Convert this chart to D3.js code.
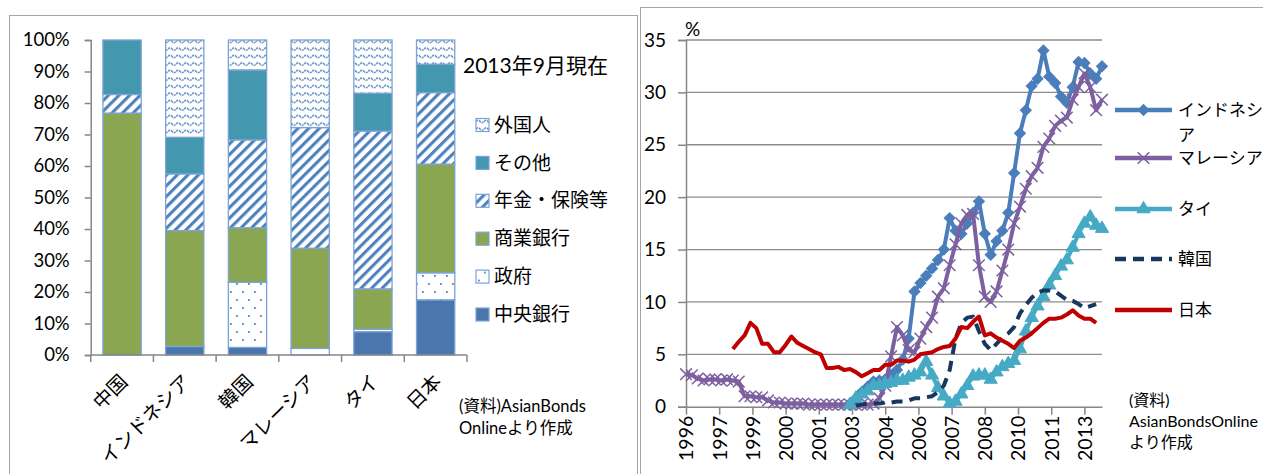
<!DOCTYPE html>
<html>
<head>
<meta charset="utf-8">
<script src="https://d3js.org/d3.v7.min.js"></script>
<style>
body { margin: 0; background: #fff; }
svg { display: block; font-family: Lato, "Noto Sans CJK JP", sans-serif; }
</style>
</head>
<body>
<script>
(function() {

// ---- left chart data (share of holders, %) ----
var countries = ["中国", "インドネシア", "韓国", "マレーシア", "タイ", "日本"];
var holders = ["中央銀行", "政府", "商業銀行", "年金・保険等", "その他", "外国人"];
var centralBank      = [0,    2.7,  2.4,  0,    7.4,  17.5];
var government       = [0,    0,    20.7, 2.1,  0.8,  8.6];
var commercialBanks  = [76.8, 36.8, 17.3, 31.8, 12.8, 34.5];
var pensionInsurance = [5.9,  18.0, 27.9, 38.3, 50.1, 22.7];
var others           = [17.3, 11.6, 22.2, 0,    12.0, 9.0];
var foreigners       = [0,    30.9, 9.5,  27.8, 16.9, 7.7];
var pctTicks = [0, 10, 20, 30, 40, 50, 60, 70, 80, 90, 100];

// ---- right chart data (foreign share of local bonds, %, quarterly from 1996Q1) ----
var yearLabels = ["1996", "1997", "1999", "2000", "2001", "2003", "2004", "2006", "2007", "2008", "2010", "2011", "2013"];
var valueTicks = [0, 5, 10, 15, 20, 25, 30, 35];
var indonesiaStart = 28;
var indonesia = [0.3, 0.8, 1.4, 1.9, 2.4, 2.5, 2.6, 3.0, 3.5, 4.5,
  6.5, 11.0, 11.8, 12.5, 13.2, 14.0, 15.0, 18.0, 16.8, 16.5,
  17.5, 18.5, 19.6, 16.5, 14.5, 15.8, 16.8, 18.5, 22.3, 26.1,
  28.3, 30.6, 31.3, 34.0, 31.5, 30.9, 29.6, 29.0, 30.5, 32.9,
  32.8, 31.8, 31.3, 32.5];
var malaysiaStart = 0;
var malaysia = [3.1, 3.0, 2.7, 2.5, 2.6, 2.6, 2.5, 2.6, 2.5, 2.4,
  1.0, 1.0, 0.9, 0.9, 0.6, 0.4, 0.4, 0.3, 0.3, 0.3,
  0.3, 0.2, 0.2, 0.2, 0.2, 0.2, 0.2, 0.2, 0.2, 0.2,
  0.2, 0.2, 0.3, 0.8, 2.0, 4.8, 7.6, 6.8, 5.4, 5.2,
  6.5, 7.6, 8.5, 10.5, 11.3, 13.5, 15.5, 17.5, 18.3, 18.4,
  13.5, 10.5, 10.0, 11.0, 13.0, 15.0, 17.5, 19.1, 20.8, 22.0,
  22.8, 24.8, 25.6, 26.8, 27.3, 27.6, 29.3, 30.5, 31.8, 30.5,
  28.3, 29.3];
var thailandStart = 28;
var thailand = [0.2, 0.8, 1.2, 1.5, 2.0, 2.0, 2.2, 2.3, 2.5, 2.5,
  2.8, 3.0, 3.3, 4.3, 3.0, 1.8, 1.0, 0.3, 0.5, 1.2,
  2.0, 2.9, 3.0, 3.0, 2.6, 3.3, 3.8, 4.1, 4.4, 5.5,
  7.2, 8.5, 9.6, 10.5, 11.6, 12.5, 13.4, 14.0, 15.2, 16.5,
  17.5, 18.1, 17.3, 17.0];
var koreaStart = 29;
var korea = [0.1, 0.2, 0.3, 0.3, 0.3, 0.4, 0.4, 0.5, 0.5, 0.6,
  0.8, 0.8, 0.9, 1.0, 1.4, 2.0, 3.5, 6.5, 8.0, 8.5,
  8.6, 7.2, 6.0, 5.4, 6.0, 6.6, 7.0, 7.6, 8.9, 9.7,
  10.4, 10.9, 11.1, 11.1, 11.0, 10.6, 10.2, 10.1, 9.8, 9.4,
  9.6, 9.8];
var japanStart = 8;
var japan = [5.5, 6.2, 6.8, 8.0, 7.5, 6.0, 6.0, 5.2, 5.2, 5.9,
  6.7, 6.1, 5.8, 5.5, 5.2, 5.0, 3.7, 3.7, 3.8, 3.5,
  3.6, 3.3, 2.9, 3.2, 3.5, 3.5, 4.0, 4.0, 4.4, 4.4,
  4.3, 4.5, 5.0, 5.1, 5.2, 5.5, 5.7, 5.8, 6.5, 7.6,
  7.5, 8.1, 8.6, 6.8, 7.0, 6.6, 6.3, 6.0, 5.6, 6.3,
  6.6, 7.0, 7.5, 8.0, 8.4, 8.4, 8.5, 8.8, 9.2, 8.7,
  8.4, 8.4, 8.0];

var axisGray = "#868686",
    patBlue = "#4f81bd",
    barEdge = "#7ba3d6",
    fontFam = "Lato, 'Noto Sans CJK JP', sans-serif";

var svg = d3.select("body").append("svg")
    .attr("width", 1263)
    .attr("height", 474);

// chart frames
svg.append("rect")
    .attr("x", 9.5).attr("y", 15.5).attr("width", 628).attr("height", 480)
    .attr("fill", "none").attr("stroke", "#a6a6a6");
svg.append("rect")
    .attr("x", 640.5).attr("y", 7.5).attr("width", 640).attr("height", 480)
    .attr("fill", "none").attr("stroke", "#a6a6a6");

// fill patterns
var defs = svg.append("defs");

var pGov = defs.append("pattern").attr("id", "pat-gov")
    .attr("patternUnits", "userSpaceOnUse").attr("width", 12).attr("height", 16);
pGov.append("rect").attr("width", 12).attr("height", 16).attr("fill", "#fff");
pGov.append("rect").attr("x", 2).attr("y", 3).attr("width", 1.8).attr("height", 1.8).attr("fill", patBlue);
pGov.append("rect").attr("x", 8).attr("y", 11).attr("width", 1.8).attr("height", 1.8).attr("fill", patBlue);

var pPen = defs.append("pattern").attr("id", "pat-pen")
    .attr("patternUnits", "userSpaceOnUse").attr("width", 7.5).attr("height", 7.5)
    .attr("patternTransform", "rotate(45)");
pPen.append("rect").attr("width", 7.5).attr("height", 7.5).attr("fill", "#fff");
pPen.append("rect").attr("width", 3.1).attr("height", 7.5).attr("fill", patBlue);

var pFor = defs.append("pattern").attr("id", "pat-for")
    .attr("patternUnits", "userSpaceOnUse").attr("width", 8).attr("height", 7.5);
pFor.append("rect").attr("width", 8).attr("height", 7.5).attr("fill", "#fff");
pFor.append("path").attr("d", "M0,4 Q2,1.5 4,4 T8,4")
    .attr("fill", "none").attr("stroke", patBlue).attr("stroke-width", 1.4)
    .attr("stroke-dasharray", "2.4,0.9");

var holderFill = {
  "中央銀行": "#4a76ad",
  "政府": "url(#pat-gov)",
  "商業銀行": "#8aa650",
  "年金・保険等": "url(#pat-pen)",
  "その他": "#4397ae",
  "外国人": "url(#pat-for)"
};

// ================= left: stacked 100% bars =================
var xL = d3.scaleBand()
    .domain(countries)
    .range([90.7, 467])
    .paddingInner(0.39)
    .paddingOuter(0.195);

var yL = d3.scaleLinear()
    .domain([0, 100])
    .range([355, 40]);

var table = countries.map(function(c, i) {
  return {
    country: c,
    "中央銀行": centralBank[i],
    "政府": government[i],
    "商業銀行": commercialBanks[i],
    "年金・保険等": pensionInsurance[i],
    "その他": others[i],
    "外国人": foreigners[i]
  };
});

var stacked = d3.stack().keys(holders)(table);

var left = svg.append("g");

left.selectAll(".layer")
    .data(stacked)
  .enter().append("g")
    .attr("class", "layer")
    .attr("fill", function(d) { return holderFill[d.key]; })
  .selectAll("rect")
    .data(function(d) { return d.filter(function(s) { return s[1] - s[0] > 0; }); })
  .enter().append("rect")
    .attr("x", function(d) { return xL(d.data.country); })
    .attr("y", function(d) { return yL(d[1]); })
    .attr("width", xL.bandwidth())
    .attr("height", function(d) { return yL(d[0]) - yL(d[1]); })
    .attr("stroke", barEdge)
    .attr("stroke-width", 1.3);

// y axis
var yAxisL = left.append("g")
    .attr("transform", "translate(90.7,0)")
    .call(d3.axisLeft(yL).tickValues(pctTicks).tickSize(6).tickPadding(15)
      .tickFormat(function(d) { return d + "%"; }));
yAxisL.select(".domain").attr("stroke", axisGray).attr("stroke-width", 1.5);
yAxisL.selectAll(".tick line").attr("stroke", axisGray).attr("stroke-width", 1.5);
yAxisL.selectAll(".tick text")
    .attr("fill", "#000").style("font-size", "18.5px")
    .style("font-family", fontFam);

// x axis: line + ticks between categories
left.append("line")
    .attr("x1", 90.7).attr("x2", 467).attr("y1", 355).attr("y2", 355)
    .attr("stroke", axisGray).attr("stroke-width", 1.5);
var step = xL.step();
left.selectAll(".xsep")
    .data(d3.range(countries.length + 1))
  .enter().append("line")
    .attr("class", "xsep")
    .attr("x1", function(i) { return 90.7 + i * step; })
    .attr("x2", function(i) { return 90.7 + i * step; })
    .attr("y1", 355).attr("y2", 362)
    .attr("stroke", axisGray).attr("stroke-width", 1.5);

left.selectAll(".xlab")
    .data(countries)
  .enter().append("text")
    .attr("class", "xlab")
    .attr("transform", function(d) {
      return "translate(" + (xL(d) + xL.bandwidth() / 2 + 2) + ",378) rotate(-45)";
    })
    .attr("text-anchor", "end")
    .attr("dy", "0.35em")
    .style("font-size", "19.5px")
    .text(function(d) { return d; });

// legend
left.append("text")
    .attr("x", 463).attr("y", 66).attr("dy", "0.35em")
    .style("font-size", "21px")
    .text("2013年9月現在");

var legendRows = holders.slice().reverse();
var leg = left.selectAll(".leg")
    .data(legendRows)
  .enter().append("g")
    .attr("class", "leg")
    .attr("transform", function(d, i) { return "translate(476," + (125 + i * 37.9) + ")"; });
leg.append("rect")
    .attr("x", 0).attr("y", -6.5).attr("width", 13).attr("height", 13)
    .attr("fill", function(d) { return holderFill[d]; })
    .attr("stroke", barEdge).attr("stroke-width", 1.2);
leg.append("text")
    .attr("x", 18).attr("dy", "0.35em")
    .style("font-size", "19px")
    .text(function(d) { return d; });

var noteL = left.append("text").style("font-size", "16.5px");
noteL.append("tspan").attr("x", 459).attr("y", 406).attr("dy", "0.35em").text("(資料)AsianBonds");
noteL.append("tspan").attr("x", 459).attr("y", 428).attr("dy", "0.35em").text("Onlineより作成");

// ================= right: line chart =================
var xR = d3.scaleLinear()
    .domain([0, 213])     // months since 1996-01
    .range([686, 1102]);

var yR = d3.scaleLinear()
    .domain([0, 35])
    .range([406.7, 40]);

var right = svg.append("g");

// gridlines
right.selectAll(".grid")
    .data(valueTicks.filter(function(v) { return v > 0; }))
  .enter().append("line")
    .attr("class", "grid")
    .attr("x1", 686).attr("x2", 1102)
    .attr("y1", function(d) { return yR(d); })
    .attr("y2", function(d) { return yR(d); })
    .attr("stroke", "#8c8c8c").attr("stroke-width", 1.3);

var yAxisR = right.append("g")
    .attr("transform", "translate(686,0)")
    .call(d3.axisLeft(yR).tickValues(valueTicks).tickSize(8).tickPadding(12));
yAxisR.select(".domain").attr("stroke", axisGray).attr("stroke-width", 1.5);
yAxisR.selectAll(".tick line").attr("stroke", axisGray).attr("stroke-width", 1.5);
yAxisR.selectAll(".tick text")
    .attr("fill", "#000").style("font-size", "19px")
    .style("font-family", fontFam);

right.append("text")
    .attr("x", 685).attr("y", 29).attr("dy", "0.35em")
    .style("font-size", "19px")
    .text("%");

var tickMonths = yearLabels.map(function(d, i) { return i * 17; });
var xAxisR = right.append("g")
    .attr("transform", "translate(0,406.7)")
    .call(d3.axisBottom(xR).tickValues(tickMonths).tickSize(8).tickSizeOuter(0)
      .tickFormat(function(d, i) { return yearLabels[i]; }));
xAxisR.select(".domain").attr("stroke", axisGray).attr("stroke-width", 1.5);
xAxisR.selectAll(".tick line").attr("stroke", axisGray).attr("stroke-width", 1.5);
xAxisR.selectAll(".tick text")
    .attr("fill", "#000").style("font-size", "19.5px")
    .style("font-family", fontFam)
    .attr("transform", "rotate(-90)")
    .attr("text-anchor", "end")
    .attr("x", -9).attr("y", 0).attr("dy", "0.35em");

function toPoints(start, values) {
  return values.map(function(v, i) { return { m: (start + i) * 3, v: v }; });
}

var xMark = d3.symbolX ? d3.symbol().type(d3.symbolX).size(90)()
                       : "M-5.5,-5.5L5.5,5.5M-5.5,5.5L5.5,-5.5";

var series = [
  { name: "インドネシア", pts: toPoints(indonesiaStart, indonesia), color: "#4a7ebb", marker: "diamond" },
  { name: "マレーシア", pts: toPoints(malaysiaStart, malaysia), color: "#7d60a0", marker: "x" },
  { name: "タイ", pts: toPoints(thailandStart, thailand), color: "#46aac5", marker: "triangle" },
  { name: "韓国", pts: toPoints(koreaStart, korea), color: "#17375e", dash: "11,7" },
  { name: "日本", pts: toPoints(japanStart, japan), color: "#c00000" }
];

var line = d3.line()
    .x(function(d) { return xR(d.m); })
    .y(function(d) { return yR(d.v); });

function drawMarker(sel, s) {
  if (s.marker === "diamond") {
    sel.append("path")
        .attr("d", d3.symbol().type(d3.symbolSquare).size(60)())
        .attr("transform", "rotate(45)")
        .attr("fill", s.color).attr("stroke", s.color).attr("stroke-width", 1);
  } else if (s.marker === "triangle") {
    sel.append("path")
        .attr("d", d3.symbol().type(d3.symbolTriangle).size(75)())
        .attr("fill", s.color).attr("stroke", s.color).attr("stroke-width", 1);
  } else if (s.marker === "x") {
    sel.append("path")
        .attr("d", xMark)
        .attr("fill", "none").attr("stroke", s.color).attr("stroke-width", 1.5);
  }
}

series.forEach(function(s) {
  var g = right.append("g");
  g.append("path")
      .datum(s.pts)
      .attr("d", line)
      .attr("fill", "none")
      .attr("stroke", s.color)
      .attr("stroke-width", 4)
      .attr("stroke-linejoin", "round")
      .attr("stroke-dasharray", s.dash || null);
  if (s.marker) {
    var m = g.selectAll(".mk")
        .data(s.pts)
      .enter().append("g")
        .attr("class", "mk")
        .attr("transform", function(d) { return "translate(" + xR(d.m) + "," + yR(d.v) + ")"; });
    drawMarker(m, s);
  }
});

// right legend
var legR = right.selectAll(".legr")
    .data(series)
  .enter().append("g")
    .attr("class", "legr")
    .attr("transform", function(d, i) { return "translate(1115," + [110, 158, 209, 259, 310][i] + ")"; });
legR.append("line")
    .attr("x1", 0).attr("x2", 57)
    .attr("stroke", function(d) { return d.color; })
    .attr("stroke-width", 4.5)
    .attr("stroke-dasharray", function(d) { return d.dash || null; });
legR.each(function(s) {
  if (!s.marker) return;
  drawMarker(d3.select(this).append("g").attr("transform", "translate(28.5,0)"), s);
});
legR.append("text")
    .attr("x", 63).attr("dy", "0.35em")
    .style("font-size", "17px")
    .text(function(d) { return d.name === "インドネシア" ? "インドネシ" : d.name; });
right.append("text")
    .attr("x", 1178).attr("y", 135).attr("dy", "0.35em")
    .style("font-size", "17px")
    .text("ア");

var noteR = right.append("text").style("font-size", "16px");
noteR.append("tspan").attr("x", 1129).attr("y", 400).attr("dy", "0.35em").text("(資料)");
noteR.append("tspan").attr("x", 1129).attr("y", 421).attr("dy", "0.35em").text("AsianBondsOnline");
noteR.append("tspan").attr("x", 1129).attr("y", 442).attr("dy", "0.35em").text("より作成");

})();
</script>
</body>
</html>
